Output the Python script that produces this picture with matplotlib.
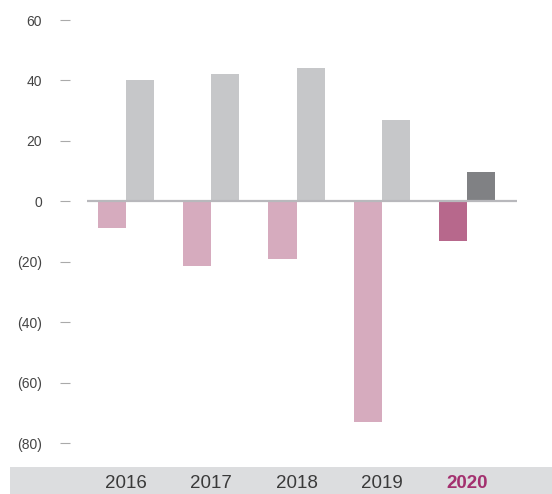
import matplotlib
matplotlib.use("Agg")
import matplotlib.pyplot as plt
from matplotlib.patches import Rectangle
import numpy as np

plt.rcParams['font.family'] = ['Liberation Sans', 'DejaVu Sans']

years = ["2016", "2017", "2018", "2019", "2020"]
negative_vals = [-9, -21.5, -19, -73, -13]
positive_vals = [40, 42, 44, 27, 9.6]
y_ticks = [60, 40, 20, 0, -20, -40, -60, -80]
y_tick_labels = ["60", "40", "20", "0", "(20)", "(40)", "(60)", "(80)"]

neg_colors = ["#d6abbe"] * 4 + ["#b7688c"]
pos_colors = ["#c6c7c9"] * 4 + ["#808184"]
label_colors = ["#3a3a3a"] * 4 + ["#a3306f"]
label_weights = ["normal"] * 4 + ["bold"]

W, H = 552, 494
fig = plt.figure(figsize=(W / 100, H / 100), dpi=100)

# axes: x from 87 to 517 px, y from 20 (60) to 443 (-80)
left, right, top, bottom = 87, 517, 20, 443
ax = fig.add_axes([left / W, 1 - bottom / H, (right - left) / W, (bottom - top) / H])
ax.set_zorder(2)
ax.patch.set_alpha(0)

# band at bottom
fig.patches.append(Rectangle((10 / W, 0), 1 - 10 / W, (H - 467) / H,
                             transform=fig.transFigure, facecolor="#dcdddf",
                             edgecolor="none", zorder=-1))

x = np.arange(len(years))
bw = 0.33
ax.bar(x - bw / 2, negative_vals, width=bw, color=neg_colors, zorder=2)
ax.bar(x + bw / 2, positive_vals, width=bw, color=pos_colors, zorder=2)
ax.axhline(0, color="#b8b8bc", lw=1.6, zorder=3)

ax.set_xlim(-0.457, 4.586)
ax.set_ylim(-80, 60)

for s in ax.spines.values():
    s.set_visible(False)
ax.spines['left'].set_position(('outward', 12.2))

ax.set_yticks(y_ticks)
ax.set_yticklabels(y_tick_labels)
ax.tick_params(axis='y', length=7.2, width=0.8, color="#aaaaaa", pad=13,
               labelsize=10, labelcolor="#444444")

ax.set_xticks(x)
ax.set_xticklabels(years)
ax.tick_params(axis='x', length=0, pad=23, labelsize=13.5)
for lbl, c, w in zip(ax.get_xticklabels(), label_colors, label_weights):
    lbl.set_color(c)
    lbl.set_fontweight(w)

fig.savefig("out.png", dpi=100)
